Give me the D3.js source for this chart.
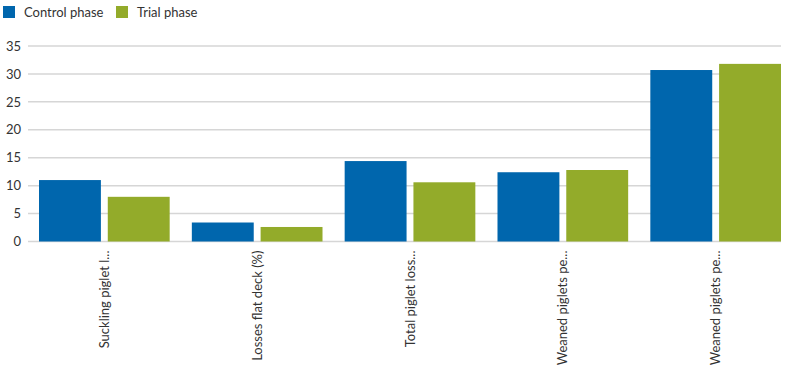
<!DOCTYPE html>
<html><head><meta charset="utf-8">
<script src="https://cdn.jsdelivr.net/npm/d3@7"></script>
<style>body{margin:0;background:#fff;font-family:"Source Sans Pro","Noto Sans",Lato,sans-serif;}</style>
</head><body><svg id="c" width="795" height="375"></svg>
<script>
const categories = ["Suckling piglet l...", "Losses flat deck (%)", "Total piglet loss...", "Weaned piglets pe...", "Weaned piglets pe..."];
const seriesNames = ["Control phase", "Trial phase"];
const controlValues = [11.0, 3.4, 14.4, 12.4, 30.7];
const trialValues = [8.0, 2.6, 10.6, 12.8, 31.8];
const yTicks = [0, 5, 10, 15, 20, 25, 30, 35];
const colors = ["#0066ad", "#93ab2a"];

(function(){
const svg = d3.select("#c");
const font = "Lato, 'Noto Sans', sans-serif";
const plotTop = 46, plotBottom = 241.5, plotLeft = 28, plotRight = 781;

const y = d3.scaleLinear().domain([0, 35]).range([plotBottom, plotTop]);
const x = d3.scaleBand().domain(categories.map((d,i)=>i)).range([39, 781]).paddingInner(0.145).paddingOuter(0);
const xs = d3.scaleBand().domain([0,1]).range([0, x.bandwidth()]).paddingInner(0.1);

svg.append("g").selectAll("line").data(yTicks).join("line")
  .attr("x1", plotLeft).attr("x2", plotRight)
  .attr("y1", d=>y(d)).attr("y2", d=>y(d))
  .attr("stroke", "#d6d6d6").attr("stroke-width", 1.5);

const yAxis = d3.axisLeft(y).tickValues(yTicks).tickSize(0).tickPadding(0);
const ga = svg.append("g").attr("transform", `translate(21,0)`).call(yAxis);
ga.select(".domain").remove();
ga.selectAll("text").attr("font-family", font).attr("font-size", 13).attr("fill", "#333");

const series = [controlValues, trialValues];
series.forEach((vals, s) => {
  svg.append("g").selectAll("rect").data(vals).join("rect")
    .attr("x", (d,i)=>x(i)+xs(s))
    .attr("width", xs.bandwidth())
    .attr("y", d=>y(d))
    .attr("height", d=>y(0)-y(d))
    .attr("fill", colors[s]);
});

const xAxis = d3.axisBottom(x).tickSize(0).tickFormat(i=>categories[i]);
const gx = svg.append("g").attr("transform", `translate(0,${plotBottom})`).call(xAxis);
gx.select(".domain").remove();
gx.selectAll("text")
  .attr("font-family", font).attr("font-size", 13).attr("fill", "#333")
  .attr("transform", "rotate(-90)")
  .attr("text-anchor", "end")
  .attr("x", -9).attr("y", 0).attr("dy", "0.35em");

const legend = svg.append("g");
const lx = [3, 116];
seriesNames.forEach((n, i) => {
  legend.append("rect").attr("x", lx[i]).attr("y", 6).attr("width", 12).attr("height", 12).attr("fill", colors[i]);
  legend.append("text").attr("x", lx[i]+21).attr("y", 12).attr("dy", "0.35em")
    .attr("font-family", font).attr("font-size", 13).attr("fill", "#333").text(n);
});
})();
</script></body></html>
